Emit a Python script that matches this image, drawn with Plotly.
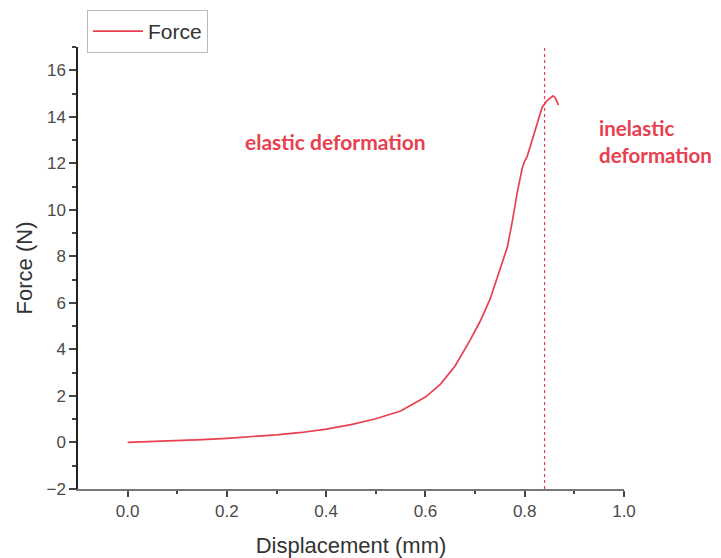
import plotly.graph_objects as go

displacement = [0, 0.05, 0.1, 0.15, 0.2, 0.25, 0.3, 0.35, 0.4, 0.45, 0.5, 0.55, 0.6, 0.63, 0.66,
                0.69, 0.71, 0.73, 0.75, 0.765, 0.775, 0.785, 0.795, 0.80, 0.805, 0.815, 0.825,
                0.835, 0.845, 0.857, 0.862, 0.868]
force = [0, 0.03, 0.07, 0.12, 0.18, 0.25, 0.33, 0.43, 0.57, 0.77, 1.02, 1.35, 1.95, 2.5, 3.3,
         4.4, 5.2, 6.15, 7.4, 8.4, 9.5, 10.75, 11.8, 12.1, 12.3, 13.0, 13.7,
         14.4, 14.7, 14.9, 14.8, 14.5]
boundary_x = 0.84
x_ticks = [0.0, 0.2, 0.4, 0.6, 0.8, 1.0]
y_ticks = [-2, 0, 2, 4, 6, 8, 10, 12, 14, 16]

red = "#e8404f"

fig = go.Figure()
fig.add_trace(go.Scatter(x=displacement, y=force, mode="lines", name="Force",
                         line=dict(color=red, width=1.7)))
fig.add_trace(go.Scatter(x=[boundary_x, boundary_x], y=[-2, 17], mode="lines",
                         showlegend=False, line=dict(color=red, width=1.2, dash="dot")))

fig.add_annotation(x=0.418, y=12.95, text="elastic deformation", showarrow=False,
                   font=dict(family="Lato", size=21, color=red, weight="bold"))
fig.add_annotation(x=0.946, y=12.95, text="inelastic<br>deformation", showarrow=False,
                   xanchor="left", align="left",
                   font=dict(family="Lato", size=20.5, color=red, weight="bold"))

tickfont = dict(family="Liberation Sans", size=17, color="#4a4a4a")
titlefont = dict(family="Liberation Sans", size=22, color="#333333")

fig.update_layout(
    width=721, height=558,
    margin=dict(l=78, r=97, t=47, b=69, autoexpand=False),
    plot_bgcolor="white", paper_bgcolor="white",
    showlegend=True,
    legend=dict(x=0.0165, y=1.0837, xanchor="left", yanchor="top",
                bordercolor="#bbbbbb", borderwidth=1, bgcolor="white",
                font=dict(family="Liberation Sans", size=21, color="#333333"),
                itemwidth=50, tracegroupgap=0),
    xaxis=dict(range=[-0.1, 1.0], tickvals=x_ticks, ticktext=[f"{v:.1f}" for v in x_ticks],
               title=dict(text="Displacement (mm)", standoff=17, font=titlefont),
               tickfont=tickfont, showgrid=False, zeroline=False,
               ticks="outside", ticklen=6, tickwidth=1.5, tickcolor="#444444",
               minor=dict(ticks="outside", ticklen=3, tickcolor="#444444", showgrid=False,
                          tickvals=[0.1, 0.3, 0.5, 0.7, 0.9]),
               showline=True, linecolor="#777777", linewidth=2),
    yaxis=dict(range=[-2, 17], tickvals=y_ticks,
               title=dict(text="Force (N)", standoff=8, font=titlefont),
               tickfont=tickfont, showgrid=False, zeroline=False,
               ticks="outside", ticklen=7, tickwidth=1.5, tickcolor="#444444",
               minor=dict(ticks="outside", ticklen=4, tickcolor="#444444", showgrid=False,
                          tickvals=[-1, 1, 3, 5, 7, 9, 11, 13, 15, 17]),
               showline=True, linecolor="#222222", linewidth=1.5),
)

fig.write_html("out.html")
